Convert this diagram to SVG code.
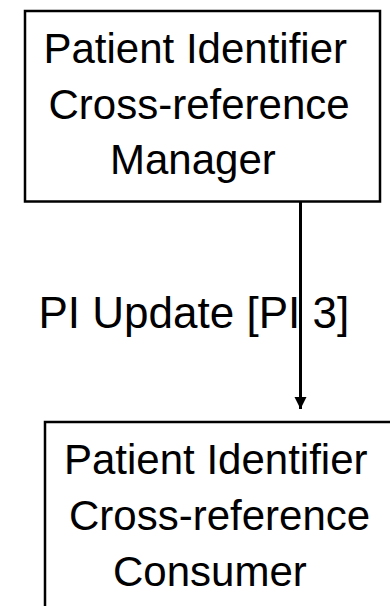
<svg xmlns="http://www.w3.org/2000/svg" width="390" height="606" viewBox="0 0 390 606">
<style>
.box{fill:#fff;stroke:#000;stroke-width:2.5}
.t{font-family:"Liberation Sans",Arial,sans-serif;font-size:42px;fill:#000}
.lbl{font-size:44px}
.conn{stroke:#000;stroke-width:3;fill:none}
</style>
<defs>
<marker id="ah" markerUnits="userSpaceOnUse" markerWidth="12" markerHeight="13" refX="12" refY="6" orient="auto">
<path d="M0,0 L12,6 L0,12 Z" fill="#000"/>
</marker>
</defs>
<rect width="390" height="606" fill="#fff"/>
<g id="manager">
<rect class="box" x="25" y="11" width="355" height="190.5"/>
<text class="t" x="43.5" y="63">Patient Identifier</text>
<text class="t" x="48.5" y="118.5">Cross-reference</text>
<text class="t" x="110" y="174">Manager</text>
</g>
<g id="consumer">
<rect class="box" x="45" y="422" width="360" height="200"/>
<text class="t" x="64" y="474">Patient Identifier</text>
<text class="t" x="69" y="529.5">Cross-reference</text>
<text class="t" x="113" y="586">Consumer</text>
</g>
<g id="connectors">
<text class="t lbl" x="38.5" y="328">PI Update [PI 3]</text>
<line class="conn" x1="300.5" y1="202" x2="300.5" y2="409" marker-end="url(#ah)"/>
</g>
</svg>
